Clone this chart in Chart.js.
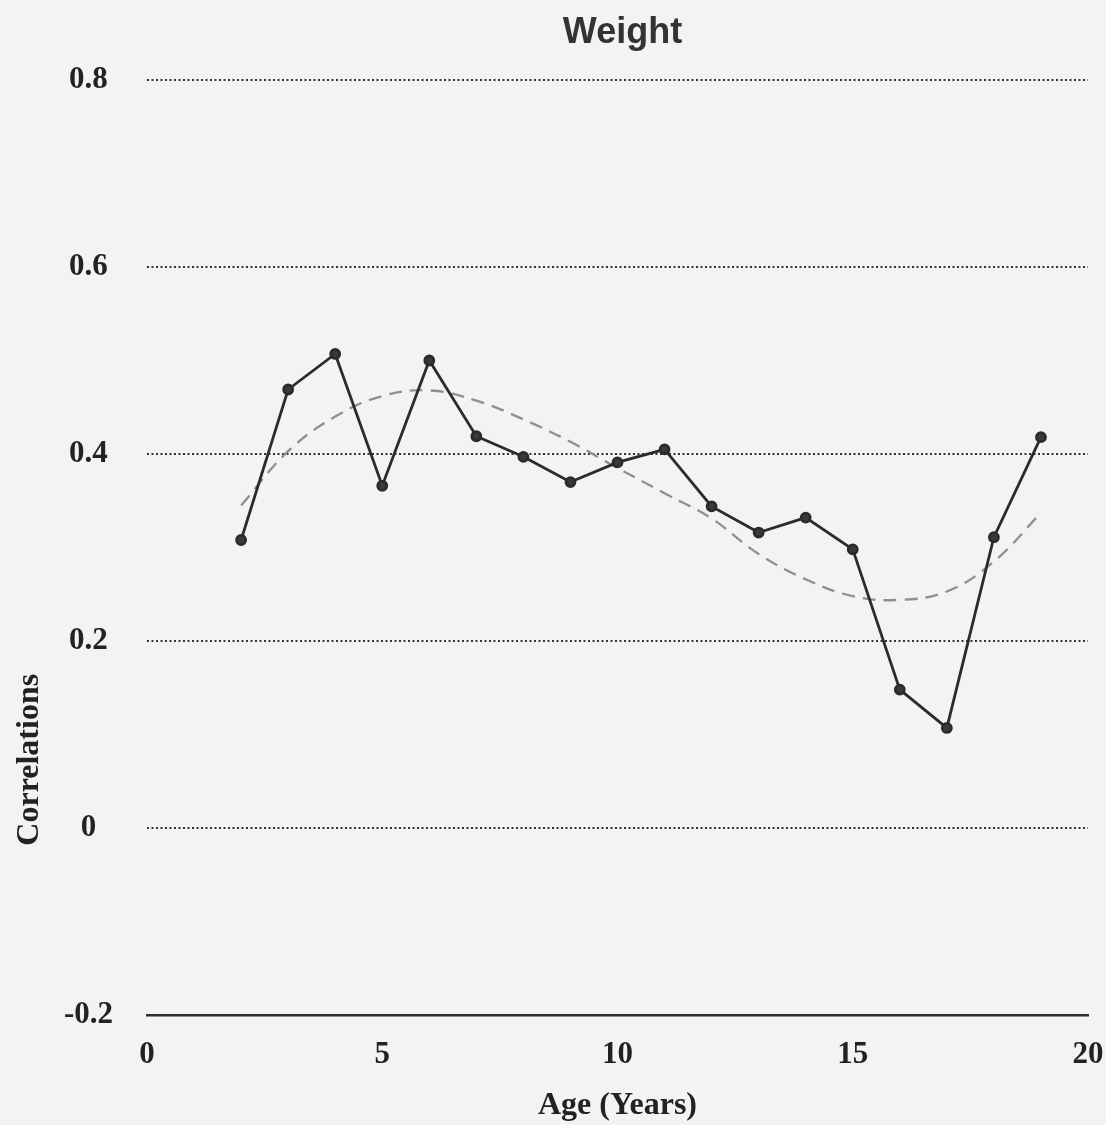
<!DOCTYPE html>
<html>
<head>
<meta charset="utf-8">
<script src="https://cdn.jsdelivr.net/npm/chart.js@4/dist/chart.umd.min.js"></script>
<style>
  html, body { margin: 0; padding: 0; background: #f3f3f3; }
  #wrap { width: 1106px; height: 1125px; position: relative; }
</style>
</head>
<body>
<div id="wrap"><canvas id="weightChart"></canvas></div>
<script>
// ages (years) and correlations
var ages = [2, 3, 4, 5, 6, 7, 8, 9, 10, 11, 12, 13, 14, 15, 16, 17, 18, 19];
var observed = [0.308, 0.469, 0.507, 0.366, 0.500, 0.419, 0.397, 0.370, 0.391, 0.405, 0.344, 0.316, 0.332, 0.298, 0.148, 0.107, 0.311, 0.418];
var fitted = [0.345, 0.403, 0.440, 0.462, 0.468, 0.457, 0.437, 0.413, 0.385, 0.358, 0.331, 0.293, 0.266, 0.248, 0.244, 0.253, 0.285, 0.337];
var xTicks = [0, 5, 10, 15, 20];
var yTicks = [-0.2, 0, 0.2, 0.4, 0.6, 0.8];

function pts(ys) {
  return ages.map(function (a, i) { return { x: a, y: ys[i] }; });
}

// title and rotated y label, placed the way the printed figure has them
var labelsPlugin = {
  id: 'labels',
  afterDraw: function (chart) {
    var c = chart.ctx, area = chart.chartArea;
    c.save();
    c.fillStyle = '#333';
    c.font = 'bold 36px "Liberation Sans", Arial, sans-serif';
    c.textAlign = 'center';
    c.textBaseline = 'middle';
    c.fillText('Weight', (area.left + area.right) / 2 + 5, 33);

    c.translate(30, area.top + (area.bottom - area.top) * 0.727);
    c.rotate(-Math.PI / 2);
    c.font = 'bold 32px "Liberation Serif", "Times New Roman", serif';
    c.fillStyle = '#222';
    c.fillText('Correlations', 0, 0);
    c.restore();
  }
};

var ctx = document.getElementById('weightChart').getContext('2d');
var chart = new Chart(ctx, {
  type: 'line',
  data: {
    datasets: [{
      label: 'Observed',
      data: pts(observed),
      borderColor: '#2b2b2b',
      backgroundColor: '#333',
      borderWidth: 2.8,
      pointRadius: 4.5,
      pointBackgroundColor: '#3a3a3a',
      pointBorderColor: '#2b2b2b',
      tension: 0,
      order: 1
    }, {
      label: 'Fitted',
      data: pts(fitted),
      borderColor: '#8f8f8f',
      borderWidth: 2.3,
      borderDash: [13, 8],
      pointRadius: 0,
      tension: 0.4,
      order: 2
    }]
  },
  options: {
    responsive: true,
    maintainAspectRatio: false,
    animation: false,
    layout: { padding: { top: 80, right: 0, left: 0, bottom: 0 } },
    plugins: {
      legend: { display: false },
      tooltip: { enabled: false }
    },
    scales: {
      x: {
        type: 'linear',
        min: 0,
        max: 20,
        afterBuildTicks: function (s) { s.ticks = xTicks.map(function (v) { return { value: v }; }); },
        afterFit: function (s) { s.height = 110; s.paddingRight = 18; s.paddingLeft = 0; },
        grid: { display: false, drawTicks: false },
        border: { display: true, color: '#2e2e2e', width: 2.5 },
        ticks: {
          padding: 21,
          color: '#222',
          font: { family: '"Liberation Serif", "Times New Roman", serif', size: 31, weight: 'bold' }
        },
        title: {
          display: true,
          text: 'Age (Years)',
          color: '#222',
          padding: { top: 3, bottom: 0 },
          font: { family: '"Liberation Serif", "Times New Roman", serif', size: 32, weight: 'bold' }
        }
      },
      y: {
        min: -0.2,
        max: 0.8,
        afterBuildTicks: function (s) { s.ticks = yTicks.map(function (v) { return { value: v }; }); },
        afterFit: function (s) { s.width = 147; },
        grid: {
          drawTicks: false,
          lineWidth: 2,
          color: function (c) { return c.tick && c.tick.value < -0.1 ? 'rgba(0,0,0,0)' : '#333'; }
        },
        border: { display: false, dash: [2, 2.5] },
        ticks: {
          padding: 34,
          crossAlign: 'center',
          color: '#222',
          font: { family: '"Liberation Serif", "Times New Roman", serif', size: 31, weight: 'bold' },
          callback: function (v) { return String(Number(v.toFixed(1))); }
        }
      }
    }
  },
  plugins: [labelsPlugin]
});
</script>
</body>
</html>
